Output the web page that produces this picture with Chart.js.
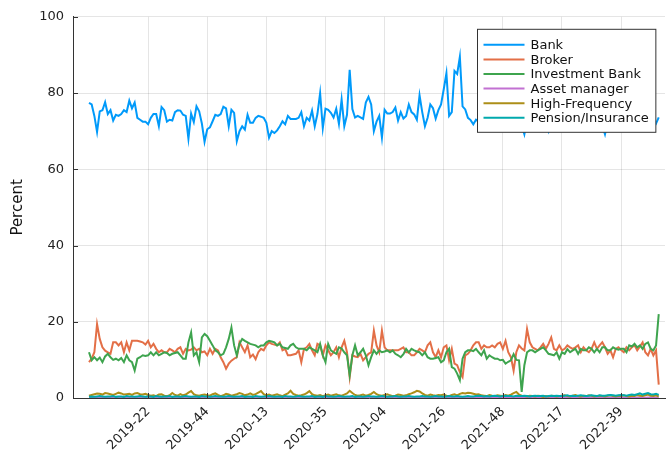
<!DOCTYPE html>
<html>
<head>
<meta charset="utf-8">
<script src="https://cdn.jsdelivr.net/npm/chart.js@4.4.1/dist/chart.umd.min.js"></script>
<style>
  html, body { margin: 0; padding: 0; background: #fff; }
  #chart { display: block; }
</style>
</head>
<body>
<canvas id="chart" width="666" height="458"></canvas>
<script>
// week categories (year-week, Monday based, week 00 = days before first Monday)
const weeks = [];
for (const yr of [2019, 2020, 2021, 2022]) {
  for (let w = 0; w <= 52; w++) weeks.push(yr + '-' + String(w).padStart(2, '0'));
}
weeks.push('2023-00');

const tickWeeks = ['2019-22', '2019-44', '2020-13', '2020-35', '2021-04', '2021-26', '2021-48', '2022-17', '2022-39'];
const yTicks = [0, 20, 40, 60, 80, 100];

// share of volume per counterparty type, percent
const bank = [
  77.4,77.0,74.0,69.8,75.2,75.5,77.6,74.5,75.5,72.8,
  74.3,74.0,74.5,75.5,75.0,78.0,76.0,77.5,73.5,73.0,
  72.5,72.5,71.8,73.5,74.5,74.5,71.3,76.3,75.5,72.5,
  73.0,72.8,75.0,75.5,75.4,74.3,74.0,68.0,74.6,72.4,
  76.5,75.2,72.0,67.2,70.5,71.0,72.6,74.3,74.0,74.5,
  76.4,76.0,71.3,75.6,74.8,67.4,70.0,71.3,70.4,74.3,
  72.2,72.2,73.5,74.0,73.8,73.5,72.2,68.3,70.0,69.5,
  70.2,71.3,72.6,71.8,74.0,73.2,73.2,73.2,73.5,75.0,
  71.3,73.5,72.8,75.4,71.3,74.5,80.0,70.8,75.9,75.6,
  74.8,73.6,75.9,71.9,78.3,71.3,74.3,86.1,75.8,73.6,
  74.0,73.6,73.2,77.5,79.0,77.0,70.0,72.5,74.0,68.3,
  75.6,74.6,74.6,75.0,76.2,72.8,75.0,73.3,74.0,77.0,
  75.0,74.4,73.0,79.4,75.0,71.3,73.5,77.0,76.0,73.3,
  75.5,77.0,81.0,85.2,74.0,75.0,85.8,85.0,89.5,76.5,
  75.7,73.5,72.9,71.8,73.0,72.5,74.0,73.2,72.6,74.5,
  73.8,72.4,73.6,74.8,73.0,72.2,73.5,74.2,72.8,73.9,
  72.5,71.6,69.2,72.8,74.1,73.3,72.7,74.6,73.4,72.9,
  71.8,70.0,73.2,74.3,72.6,73.7,74.5,73.1,72.3,73.8,
  74.0,72.9,73.5,74.7,72.6,73.3,74.2,72.8,73.6,72.1,
  73.0,71.5,69.2,72.4,73.9,72.7,74.3,73.1,72.6,73.8,
  74.4,72.9,73.4,72.2,73.6,74.1,72.8,73.3,72.5,73.7,
  72.9,72.0,73.6
];
const broker = [
  9.4,10.3,12.0,19.4,15.5,13.3,12.4,12.0,11.6,14.6,
  14.6,13.8,14.6,12.0,14.6,12.5,15.0,15.0,15.0,14.8,
  14.6,14.0,15.0,13.3,14.2,12.9,12.0,12.5,12.0,12.0,
  12.9,12.5,12.0,12.9,13.3,11.6,12.9,12.5,12.7,13.3,
  12.5,12.9,12.0,12.2,11.2,12.9,11.6,12.9,12.5,10.7,
  9.4,7.7,9.0,9.8,10.3,10.7,14.6,13.3,12.0,13.8,
  10.7,11.4,10.2,12.0,12.9,12.5,13.8,14.6,14.2,14.0,
  13.8,14.6,12.5,12.9,11.2,11.2,11.4,11.6,12.5,9.4,
  12.9,13.3,14.2,12.5,11.2,14.2,13.8,11.2,13.8,12.5,
  11.2,12.0,13.3,10.7,13.3,15.0,12.0,5.5,11.2,10.9,
  10.7,11.6,9.9,10.7,11.6,12.0,17.7,13.8,12.0,17.7,
  13.3,12.5,12.5,12.5,12.5,12.5,12.9,13.3,12.0,12.0,
  11.2,11.2,12.0,12.9,12.5,12.0,13.8,14.6,12.0,10.7,
  12.5,10.7,13.3,13.8,9.9,12.9,9.0,8.6,6.8,5.5,
  11.2,11.6,12.5,13.8,14.6,14.6,12.9,13.8,13.3,13.3,
  13.8,13.3,14.2,14.6,12.9,15.0,12.0,10.7,7.2,12.0,
  13.8,13.0,12.5,18.1,14.6,13.3,12.9,12.5,13.3,14.2,
  12.9,14.2,15.9,12.9,12.5,13.8,12.5,12.9,13.8,13.3,
  12.9,13.3,13.8,12.0,13.3,12.5,12.0,12.9,14.6,12.9,
  13.8,14.6,13.3,11.6,12.5,10.7,12.9,13.3,12.6,12.0,
  13.3,12.5,13.3,13.8,12.5,13.5,14.6,12.0,11.2,12.9,
  11.2,12.5,3.5
];
const investmentBank = [
  12.0,9.9,10.7,9.9,10.6,9.4,10.9,11.6,10.7,10.0,
  10.3,9.9,10.5,9.4,11.2,9.9,9.4,7.2,10.3,10.7,
  11.2,11.0,11.2,12.0,11.2,12.0,11.2,11.6,12.0,11.8,
  11.2,11.6,11.8,12.0,11.2,10.3,10.3,14.6,17.2,11.2,
  12.0,9.4,15.9,16.8,16.2,15.0,13.8,12.5,12.0,11.2,
  11.6,13.3,15.5,18.5,13.8,11.2,14.2,15.5,15.0,14.6,
  14.2,14.0,13.8,13.3,13.8,13.8,14.6,15.0,14.8,14.6,
  13.8,14.2,13.3,13.1,12.9,13.8,14.2,13.3,12.9,12.9,
  12.9,12.5,13.3,12.9,12.5,12.0,14.2,11.2,9.4,14.2,
  12.5,12.0,11.6,13.3,13.0,12.0,11.2,6.0,11.2,13.8,
  11.2,12.0,12.9,11.2,8.6,10.7,12.5,11.6,12.5,12.0,
  12.2,12.5,12.0,12.5,11.6,11.2,10.7,11.5,12.9,12.0,
  12.9,12.5,12.2,12.0,11.2,12.0,10.7,10.3,10.3,10.5,
  10.7,9.4,9.9,12.0,12.9,8.1,7.7,6.4,4.7,10.3,
  12.0,12.5,12.5,12.3,12.9,12.0,11.2,12.5,10.3,11.2,
  10.7,10.3,10.3,9.9,10.0,9.0,9.5,9.9,11.5,10.0,
  9.9,1.6,8.6,12.0,12.5,12.5,12.0,12.5,12.9,13.3,
  12.5,11.6,11.4,11.2,12.0,10.3,12.0,11.6,12.8,12.0,
  12.5,12.9,11.6,12.9,12.5,12.5,13.3,12.9,12.0,12.9,
  12.0,13.3,13.3,12.5,12.5,13.3,12.9,12.7,12.9,12.9,
  12.0,13.8,13.5,14.2,13.3,13.8,12.9,14.2,14.6,12.9,
  12.5,13.8,22.0
];
const assetManager = [
  0.1,0.1,0.05,0.1,0.15,0.1,0.1,0.05,0.1,0.1,0.15,0.1,0.05,0.1,0.1,0.1,0.15,0.1,0.05,0.1,0.1,0.1,
  0.1,0.05,0.1,0.1,0.15,0.1,0.1,0.05,0.1,0.1,0.1,0.15,0.1,0.05,0.1,0.1,0.1,0.15,0.1,0.1,0.05,0.1,
  0.1,0.1,0.15,0.1,0.05,0.1,0.1,0.1,0.15,0.1,0.1,0.05,0.1,0.1,0.15,0.1,0.1,0.05,0.1,0.1,
  0.1,0.1,0.05,0.1,0.15,0.1,0.1,0.05,0.1,0.1,0.15,0.1,0.05,0.1,0.1,0.1,0.15,0.1,0.05,0.1,0.1,0.1,
  0.1,0.05,0.1,0.1,0.15,0.1,0.1,0.05,0.1,0.1,0.1,0.15,0.1,0.05,0.1,0.1,0.1,0.15,0.1,0.1,0.05,0.1,
  0.1,0.1,0.05,0.1,0.15,0.1,0.1,0.05,0.1,0.1,0.15,0.1,0.05,0.1,0.1,0.1,0.15,0.1,0.05,0.1,0.1,0.1,
  0.1,0.05,0.1,0.1,0.15,0.1,0.1,0.05,0.1,0.1,0.1,0.15,0.1,0.05,0.1,0.1,0.1,0.15,0.1,0.1,0.05,0.1,
  0.1,0.1,0.05,0.1,0.15,0.1,0.1,0.05,0.1,0.1,0.15,0.1,0.05,0.1,0.1,0.1,0.15,0.1,0.05,0.1,0.1,0.1,
  0.1,0.05,0.1,0.1,0.15,0.1,0.1,0.05,0.1,0.1,0.1,0.15,0.1,0.05,0.1,0.1,0.1,0.15,0.1,0.1,0.05,0.1,
  0.1,0.1,0.15,0.1,0.05,0.1,0.1,0.1,0.15,0.1,0.1,0.05,0.1,0.1,0.15,0.1,0.1
];
const highFrequency = [
  0.6,0.8,1.0,1.2,1.1,0.9,1.3,1.2,1.0,0.8,1.1,1.4,1.2,0.9,1.0,1.1,0.8,1.2,1.3,1.0,0.9,1.1,
  0.8,0.6,0.7,0.5,0.9,1.0,0.6,0.5,0.7,1.3,0.8,0.6,1.0,0.7,0.9,1.4,1.8,1.0,0.7,0.6,0.8,0.9,
  0.7,0.6,1.0,1.2,0.8,0.5,0.7,1.1,0.9,0.6,0.8,1.0,1.3,1.1,0.7,0.9,1.2,0.8,1.0,1.4,
  1.8,1.0,0.7,0.9,0.6,0.8,1.0,0.7,0.5,0.9,1.2,1.9,1.1,0.8,0.6,0.7,0.9,1.3,1.8,1.0,0.7,0.6,
  0.8,0.5,0.7,0.9,0.6,0.8,1.0,0.7,0.6,0.9,1.2,1.9,1.3,0.8,0.6,0.7,0.9,0.6,0.8,1.1,1.6,1.0,
  0.7,0.6,0.8,1.0,0.7,0.5,0.6,0.9,0.8,0.6,0.7,1.0,1.2,1.5,1.9,1.7,1.2,0.8,0.6,0.9,0.7,0.6,
  0.8,0.7,0.9,0.6,0.5,0.8,1.0,0.7,1.1,1.3,1.2,1.4,1.3,1.1,0.9,1.0,0.7,0.6,0.5,0.8,0.6,0.5,
  0.7,0.6,0.5,0.8,0.6,0.9,1.3,1.6,0.9,0.6,0.5,0.4,0.6,0.5,0.4,0.6,0.5,0.3,0.5,0.4,0.6,0.5,
  0.4,0.5,0.6,0.7,0.5,0.4,0.6,0.8,0.5,0.4,0.6,0.5,0.7,0.6,0.4,0.5,0.6,0.5,0.4,0.6,0.7,0.5,
  0.4,0.6,0.5,0.7,0.5,0.4,0.6,0.5,0.8,0.6,0.5,0.7,0.9,0.6,0.5,0.7,0.4
];
const pensionInsurance = [
  0.3,0.4,0.3,0.4,0.5,0.4,0.3,0.4,0.4,0.5,0.3,0.4,0.4,0.3,0.5,0.4,0.4,0.3,0.4,0.5,0.4,0.3,
  0.4,0.4,0.3,0.5,0.4,0.3,0.4,0.4,0.5,0.3,0.4,0.4,0.3,0.4,0.5,0.4,0.3,0.4,0.4,0.3,0.5,0.4,
  0.4,0.3,0.4,0.5,0.4,0.4,0.3,0.4,0.5,0.4,0.3,0.4,0.4,0.5,0.3,0.4,0.4,0.3,0.5,0.4,
  0.3,0.4,0.4,0.5,0.4,0.3,0.4,0.4,0.3,0.5,0.4,0.4,0.3,0.4,0.5,0.4,0.3,0.4,0.4,0.5,0.3,0.4,
  0.4,0.3,0.5,0.4,0.4,0.3,0.4,0.5,0.4,0.3,0.4,0.4,0.5,0.3,0.4,0.4,0.3,0.4,0.5,0.4,0.4,0.3,
  0.4,0.5,0.4,0.3,0.4,0.4,0.5,0.4,0.3,0.4,0.4,0.5,0.4,0.3,0.4,0.4,0.5,0.4,0.4,0.3,0.4,0.5,
  0.4,0.4,0.3,0.4,0.5,0.4,0.4,0.5,0.4,0.3,0.4,0.5,0.4,0.4,0.5,0.6,0.5,0.4,0.5,0.4,0.5,0.6,
  0.5,0.4,0.5,0.6,0.5,0.5,0.4,0.6,0.5,0.5,0.6,0.5,0.4,0.5,0.6,0.5,0.5,0.6,0.4,0.5,0.6,0.5,
  0.6,0.5,0.5,0.6,0.7,0.5,0.6,0.5,0.6,0.7,0.6,0.5,0.6,0.7,0.6,0.5,0.7,0.6,0.6,0.7,0.8,0.7,
  0.6,0.7,0.8,0.7,0.6,0.8,0.9,0.8,1.0,1.2,0.9,1.1,1.3,1.0,0.9,1.1,0.8
];

const seriesNames = ['Bank', 'Broker', 'Investment Bank', 'Asset manager', 'High-Frequency', 'Pension/Insurance'];
const seriesData = [bank, broker, investmentBank, assetManager, highFrequency, pensionInsurance];
const seriesColors = ['#009afa', '#e36f47', '#3ea44e', '#c271d2', '#ac8e18', '#00a9ad'];

const tickIndex = tickWeeks.map(w => weeks.indexOf(w));

Chart.defaults.font.family = 'DejaVu Sans';
Chart.defaults.color = '#222';

// Plots-style inward tick marks
const innerTicks = {
  id: 'innerTicks',
  afterDatasetsDraw(chart) {
    const { ctx, chartArea: a, scales: { x, y } } = chart;
    ctx.save();
    ctx.strokeStyle = '#333';
    ctx.lineWidth = 1;
    ctx.beginPath();
    y.ticks.forEach(t => {
      const py = Math.round(y.getPixelForValue(t.value)) + 0.5;
      ctx.moveTo(a.left, py);
      ctx.lineTo(a.left + 5, py);
    });
    x.ticks.forEach(t => {
      const px = Math.round(x.getPixelForValue(t.value)) + 0.5;
      ctx.moveTo(px, a.bottom);
      ctx.lineTo(px, a.bottom - 5);
    });
    ctx.stroke();
    ctx.restore();
  }
};

// legend box drawn over the plot, top right
const legendBox = {
  id: 'legendBox',
  afterDraw(chart) {
    const { ctx, chartArea: a } = chart;
    ctx.save();
    ctx.font = '13px "DejaVu Sans"';
    const textW = Math.max(...seriesNames.map(n => ctx.measureText(n).width));
    const w = 53 + textW + 7;
    const h = 103;
    const right = a.right - 10;
    const left = Math.round(right - w) + 0.5;
    const top = a.top + 12.5;
    ctx.fillStyle = '#fff';
    ctx.fillRect(left, top, w, h);
    ctx.strokeStyle = '#333';
    ctx.lineWidth = 1;
    ctx.strokeRect(left, top, w, h);
    ctx.textBaseline = 'middle';
    ctx.textAlign = 'left';
    seriesNames.forEach((name, i) => {
      const yy = top + 15.5 + i * 14.6;
      ctx.strokeStyle = seriesColors[i];
      ctx.lineWidth = 2;
      ctx.beginPath();
      ctx.moveTo(left + 6, yy);
      ctx.lineTo(left + 47, yy);
      ctx.stroke();
      ctx.fillStyle = '#111';
      ctx.fillText(name, left + 53, yy + 1);
    });
    ctx.restore();
  }
};

new Chart(document.getElementById('chart'), {
  type: 'line',
  data: {
    datasets: seriesNames.map((name, k) => ({
      label: name,
      data: seriesData[k].map((v, i) => ({ x: i, y: v })),
      borderColor: seriesColors[k],
      backgroundColor: seriesColors[k],
      borderWidth: 2,
      pointRadius: 0,
      tension: 0,
      order: -k
    }))
  },
  options: {
    responsive: false,
    animation: false,
    devicePixelRatio: 1,
    layout: { padding: { top: 13, right: 1, left: 0, bottom: 0 } },
    plugins: { legend: { display: false }, tooltip: { enabled: false } },
    scales: {
      x: {
        type: 'linear',
        min: -5.95,
        max: 214.33,
        afterBuildTicks: axis => { axis.ticks = tickIndex.map(v => ({ value: v })); },
        afterFit: scale => { scale.height = 60; },
        grid: { color: 'rgba(0,0,0,0.1)', lineWidth: 1, drawTicks: false },
        border: { display: true, color: '#333', width: 1 },
        ticks: {
          autoSkip: false,
          minRotation: 45,
          maxRotation: 45,
          padding: 6,
          font: { size: 13 },
          callback: v => weeks[v]
        }
      },
      y: {
        min: 0,
        max: 100,
        afterBuildTicks: axis => { axis.ticks = yTicks.map(v => ({ value: v })); },
        afterFit: scale => { scale.width = 73; },
        grid: { color: 'rgba(0,0,0,0.1)', lineWidth: 1, drawTicks: false },
        border: { display: true, color: '#333', width: 1 },
        ticks: { padding: 9, font: { size: 13 } },
        title: { display: true, text: 'Percent', font: { size: 15 }, padding: { top: 9, bottom: 0 }, color: '#111' }
      }
    }
  },
  plugins: [innerTicks, legendBox]
});
</script>
</body>
</html>
